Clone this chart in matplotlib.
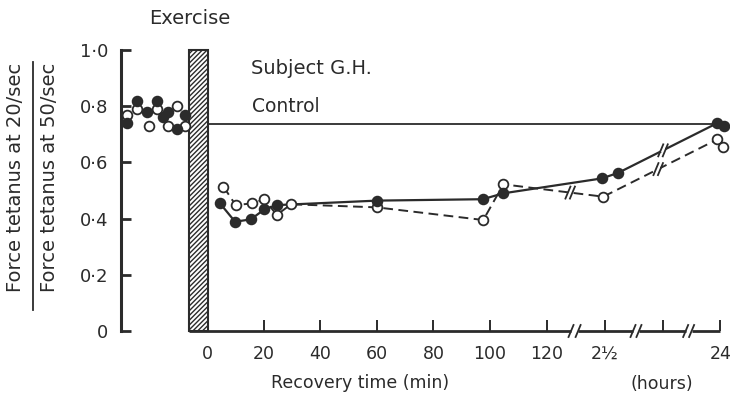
import numpy as np
import matplotlib
matplotlib.use("Agg")
import matplotlib.pyplot as plt
from matplotlib.patches import Rectangle

plt.rcParams["font.family"] = ["DejaVu Sans"]
plt.rcParams["hatch.linewidth"] = 1.0
INK = "#2b2b2b"

# ── Data (x in "plot minutes"; the hour part of the axis is compressed) ─────
pre_x_filled = [-28.3, -24.6, -21.2, -17.8, -15.7, -13.7, -10.7, -7.8]
pre_y_filled = [0.74, 0.82, 0.78, 0.82, 0.76, 0.78, 0.72, 0.77]
pre_x_open = [-28.3, -24.6, -20.6, -17.8, -13.7, -10.7, -7.8]
pre_y_open = [0.77, 0.79, 0.73, 0.79, 0.73, 0.80, 0.73]

post_x_filled = [4.6, 9.9, 15.4, 20.3, 24.6, 60, 97.4, 104.7, 139.5, 145.3, 180.1, 182.7]
post_y_filled = [0.454, 0.389, 0.397, 0.433, 0.448, 0.464, 0.469, 0.490, 0.543, 0.563, 0.739, 0.730]
post_x_open = [5.8, 10.1, 15.8, 20.3, 24.6, 29.7, 60, 97.6, 104.7, 140.0, 180.3, 182.4]
post_y_open = [0.514, 0.448, 0.454, 0.469, 0.413, 0.451, 0.440, 0.395, 0.522, 0.478, 0.682, 0.656]

control_y = 0.736
control_x = [0.7, 180.0]

x_ticks = [0, 20, 40, 60, 80, 100, 120, 140.6, 161.0, 181.3]
x_tick_labels = ["0", "20", "40", "60", "80", "100", "120", "2½", "", "24"]
y_ticks = [0, 0.2, 0.4, 0.6, 0.8, 1.0]
y_tick_labels = ["0", "0·2", "0·4", "0·6", "0·8", "1·0"]

exercise_span = (-6.3, 0.5)
axis_segments = [(-6.3, 128.6), (131.1, 150.5), (152.6, 169.1), (171.2, 181.3)]

# ── Figure geometry ─────────────────────────────────────────────────────────
W, H = 730, 398
fig = plt.figure(figsize=(W / 100, H / 100), dpi=100)
ax = fig.add_axes([121 / W, (H - 331) / H, (725 - 121) / W, 281 / H])
XMIN, XMAX = -30.4, 183.0
ax.set_xlim(XMIN, XMAX)
ax.set_ylim(0, 1.0)
PX_X = (XMAX - XMIN) / (725 - 121)   # data units per pixel
PX_Y = 1.0 / 281


def slashes(x, y, color=INK, lw=1.3, gap=4.5):
    """Double-slash break mark centred on (x, y)."""
    ax.plot([x - gap / 2 * PX_X, x + gap / 2 * PX_X], [y, y], color="white",
            lw=3, zorder=4, clip_on=False, solid_capstyle="butt")
    for off in (-gap / 2, gap / 2):
        cx = x + off * PX_X
        ax.plot([cx - 2.5 * PX_X, cx + 2.5 * PX_X], [y - 6 * PX_Y, y + 6 * PX_Y],
                color=color, lw=lw, zorder=5, clip_on=False)


def on_line(xs, ys, i, xb):
    return np.interp(xb, [xs[i], xs[i + 1]], [ys[i], ys[i + 1]])


# hatched exercise bar
ax.add_patch(Rectangle((exercise_span[0], 0), exercise_span[1] - exercise_span[0], 1.0,
                       facecolor="white", edgecolor=INK, hatch="///////", lw=1.5,
                       zorder=3, clip_on=False))

# control line
ax.plot(control_x, [control_y, control_y], color=INK, lw=1.3, zorder=2)

# post-exercise lines
ax.plot(post_x_filled, post_y_filled, color=INK, lw=1.6, zorder=2)
ax.plot(post_x_open, post_y_open, color=INK, lw=1.4, ls=(0, (5, 2.8)), zorder=2)

# break marks on the data lines
slashes(128.3, on_line(post_x_open, post_y_open, 8, 128.3))
slashes(159.4, on_line(post_x_open, post_y_open, 9, 159.4))
slashes(161.1, on_line(post_x_filled, post_y_filled, 9, 161.1))

# markers
mk = dict(ls="none", marker="o", ms=7, mec=INK, mew=1.3, clip_on=False, zorder=6)
ax.plot(pre_x_open, pre_y_open, mfc="white", **mk)
ax.plot(pre_x_filled, pre_y_filled, mfc=INK, **mk)
ax.plot(post_x_open, post_y_open, mfc="white", **mk)
ax.plot(post_x_filled, post_y_filled, mfc=INK, **mk)

# axes: y spine kept, x axis drawn by hand with breaks
for s in ("top", "right", "bottom"):
    ax.spines[s].set_visible(False)
ax.spines["left"].set_linewidth(2.2)
ax.spines["left"].set_color(INK)
for a, b in axis_segments:
    ax.plot([a, b], [0, 0], color=INK, lw=2.0, clip_on=False, zorder=3,
            solid_capstyle="butt")
for a, b in zip([s[1] for s in axis_segments[:-1]], [s[0] for s in axis_segments[1:]]):
    for xb in (a, b):
        ax.plot([xb - 2.5 * PX_X, xb + 2.5 * PX_X], [-6 * PX_Y, 6 * PX_Y],
                color=INK, lw=1.3, clip_on=False, zorder=3)

ax.set_yticks(y_ticks, y_tick_labels)
ax.set_xticks(x_ticks, x_tick_labels)
ax.tick_params(axis="y", direction="in", length=7, width=2, colors=INK,
               labelsize=13, pad=9)
ax.tick_params(axis="x", direction="in", length=8, width=1.4, colors=INK,
               labelsize=12.5, pad=10)

# text
txt = dict(color=INK, fontsize=13)
fig.text(190 / W, 1 - 18 / H, "Exercise", ha="center", va="center", color=INK, fontsize=14)
fig.text(251 / W, 1 - 69 / H, "Subject G.H.", ha="left", va="center", color=INK, fontsize=14)
fig.text(252 / W, 1 - 106 / H, "Control", ha="left", va="center", color=INK, fontsize=13.5)
fig.text(360 / W, 1 - 383 / H, "Recovery time (min)", ha="center", va="center",
         color=INK, fontsize=12.5)
fig.text(662 / W, 1 - 384 / H, "(hours)", ha="center", va="center", color=INK, fontsize=12.5)

fig.text(16 / W, 1 - 177 / H, "Force tetanus at 20/sec", rotation=90,
         ha="center", va="center", color=INK, fontsize=14)
fig.text(50 / W, 1 - 177 / H, "Force tetanus at 50/sec", rotation=90,
         ha="center", va="center", color=INK, fontsize=14)
fig.add_artist(plt.Line2D([33 / W, 33 / W], [1 - 62 / H, 1 - 310 / H],
                          color=INK, lw=1.3))

fig.savefig("out.png", dpi=100)
